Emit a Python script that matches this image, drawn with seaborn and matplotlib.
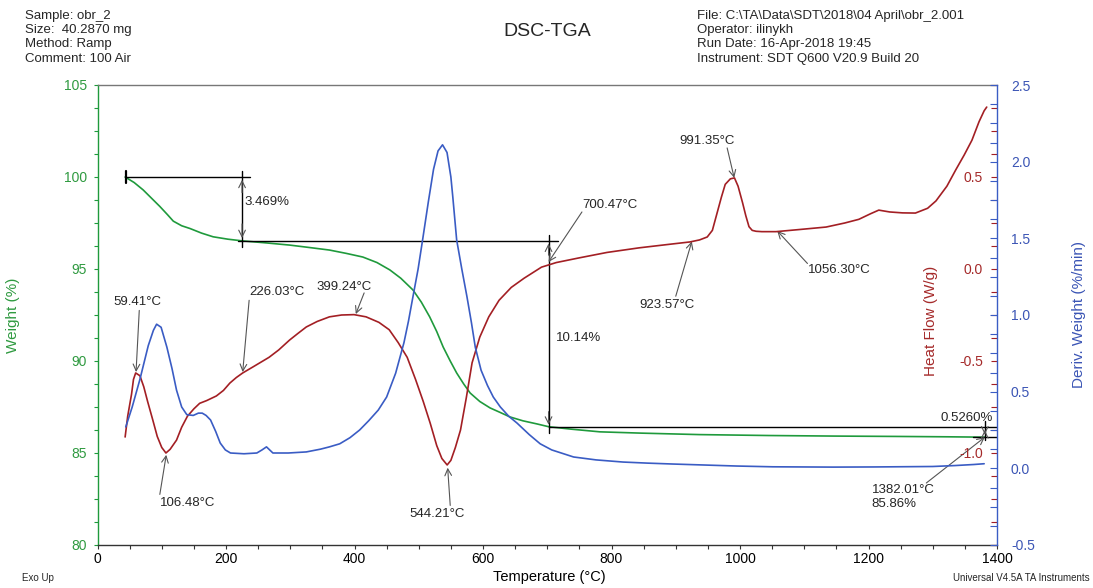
import numpy as np
import pandas as pd
import matplotlib
matplotlib.use("Agg")
import matplotlib.pyplot as plt
from matplotlib.ticker import MultipleLocator, FixedLocator, FormatStrFormatter
import seaborn as sns

# ---------------- data ----------------
weight_temp = [43, 57, 71, 84, 97, 109, 118, 131, 144, 162, 180, 203, 225, 262, 299, 327, 361, 387, 413, 435, 455, 472, 491, 504, 517, 528, 538, 549, 559, 570, 580, 595, 611, 627, 642, 662, 684, 702, 736, 782, 846, 937, 1045, 1145, 1244, 1324, 1382]
weight_pct = [100.0, 99.7, 99.3, 98.85, 98.4, 97.95, 97.6, 97.35, 97.2, 96.95, 96.75, 96.62, 96.53, 96.42, 96.3, 96.18, 96.03, 95.85, 95.65, 95.35, 94.95, 94.5, 93.86, 93.2, 92.4, 91.6, 90.76, 90.0, 89.35, 88.75, 88.26, 87.8, 87.45, 87.2, 86.96, 86.75, 86.58, 86.43, 86.3, 86.15, 86.08, 86.0, 85.95, 85.92, 85.9, 85.88, 85.86]

heat_temp = [43, 47, 53, 56, 59.4, 66, 72, 78, 86, 93, 100, 106.5, 113, 123, 131, 140, 150, 159, 170, 185, 196, 206, 216, 226, 243, 267, 282, 299, 312, 325, 342, 361, 380, 399.2, 418, 438, 454, 468, 482, 495, 507, 518, 528, 536, 544.2, 550, 557, 565, 574, 583, 595, 609, 625, 644, 664, 691, 714, 749, 793, 843, 892, 922, 937, 949, 957, 964, 971, 977, 985, 991.4, 997, 1004, 1009, 1014, 1019, 1025, 1034, 1056, 1094, 1134, 1163, 1185, 1203, 1216, 1233, 1253, 1273, 1292, 1305, 1322, 1336, 1349, 1361, 1372, 1380, 1384]
heat_flow = [-0.913, -0.80, -0.68, -0.60, -0.565, -0.58, -0.64, -0.72, -0.82, -0.91, -0.97, -1.0, -0.98, -0.93, -0.86, -0.80, -0.76, -0.73, -0.715, -0.69, -0.66, -0.62, -0.59, -0.565, -0.53, -0.48, -0.44, -0.386, -0.35, -0.315, -0.285, -0.26, -0.25, -0.248, -0.26, -0.29, -0.33, -0.40, -0.48, -0.60, -0.72, -0.84, -0.96, -1.03, -1.065, -1.04, -0.97, -0.875, -0.70, -0.51, -0.37, -0.26, -0.17, -0.10, -0.05, 0.01, 0.035, 0.06, 0.09, 0.115, 0.135, 0.147, 0.158, 0.174, 0.21, 0.30, 0.39, 0.46, 0.49, 0.495, 0.45, 0.36, 0.29, 0.23, 0.21, 0.205, 0.203, 0.203, 0.215, 0.228, 0.25, 0.27, 0.30, 0.32, 0.31, 0.305, 0.304, 0.33, 0.37, 0.45, 0.54, 0.62, 0.70, 0.80, 0.86, 0.88]

deriv_temp = [44, 54, 66, 79, 87, 92, 99, 108, 116, 123, 131, 139, 149, 157, 163, 169, 176, 184, 191, 199, 207, 228, 248, 256, 263, 268, 273, 297, 325, 347, 361, 377, 393, 408, 422, 437, 450, 464, 477, 484, 491, 499, 506, 515, 523, 530, 537, 544, 550, 553, 559, 567, 575, 582, 588, 597, 607, 616, 627, 640, 653, 672, 689, 707, 741, 776, 818, 856, 896, 995, 1051, 1145, 1208, 1300, 1334, 1364, 1380]
deriv_weight = [0.27, 0.40, 0.58, 0.80, 0.90, 0.94, 0.92, 0.79, 0.65, 0.51, 0.40, 0.35, 0.345, 0.36, 0.36, 0.345, 0.315, 0.24, 0.165, 0.12, 0.10, 0.095, 0.10, 0.12, 0.14, 0.12, 0.10, 0.10, 0.107, 0.125, 0.14, 0.16, 0.20, 0.25, 0.31, 0.38, 0.465, 0.62, 0.82, 0.96, 1.12, 1.30, 1.49, 1.74, 1.95, 2.07, 2.11, 2.06, 1.90, 1.77, 1.49, 1.30, 1.12, 0.95, 0.79, 0.64, 0.54, 0.465, 0.40, 0.34, 0.295, 0.22, 0.16, 0.12, 0.074, 0.055, 0.041, 0.034, 0.028, 0.015, 0.01, 0.008, 0.009, 0.012, 0.018, 0.025, 0.03]

x_ticks = [0, 200, 400, 600, 800, 1000, 1200, 1400]
weight_ticks = [80, 85, 90, 95, 100, 105]
heat_ticks = [-1.0, -0.5, 0.0, 0.5]
deriv_ticks = [-0.5, 0.0, 0.5, 1.0, 1.5, 2.0, 2.5]

peak_labels = ["59.41°C", "106.48°C", "226.03°C", "399.24°C", "544.21°C",
               "700.47°C", "923.57°C", "991.35°C", "1056.30°C", "1382.01°C\n85.86%"]
step_labels = ["3.469%", "10.14%", "0.5260%"]

# ---------------- style ----------------
sns.set_style("ticks")
plt.rcParams['font.family'] = ['Liberation Sans', 'DejaVu Sans']
plt.rcParams['axes.unicode_minus'] = False

GREEN = '#1f9a3c'
RED = '#a31f24'
BLUE = '#3a5cc4'
GREEN_T = '#2f9a40'
RED_T = '#a52a2a'
BLUE_T = '#3b55b5'
GRAY = '#555555'

fig = plt.figure(figsize=(10.93, 5.88), dpi=100)
ax = fig.add_axes([97.5 / 1093, 1 - 545 / 588, (997 - 97.5) / 1093, 460 / 588])
ax2 = ax.twinx()
ax3 = ax.twinx()

df_w = pd.DataFrame({"T": weight_temp, "W": weight_pct})
df_h = pd.DataFrame({"T": heat_temp, "H": heat_flow})
df_d = pd.DataFrame({"T": deriv_temp, "D": deriv_weight})

sns.lineplot(data=df_w, x="T", y="W", ax=ax, color=GREEN, linewidth=1.2, sort=False)
sns.lineplot(data=df_h, x="T", y="H", ax=ax2, color=RED, linewidth=1.2, sort=False)
sns.lineplot(data=df_d, x="T", y="D", ax=ax3, color=BLUE, linewidth=1.2, sort=False)

# ---------------- axes ----------------
ax.set_xlim(0, 1400)
ax.set_ylim(80, 105)
ax2.set_ylim(-1.5, 1.0)
ax3.set_ylim(-0.5, 2.5)

ax.xaxis.set_major_locator(FixedLocator(x_ticks))
ax.xaxis.set_minor_locator(MultipleLocator(50))
ax.yaxis.set_major_locator(FixedLocator(weight_ticks))
ax.yaxis.set_minor_locator(MultipleLocator(1.25))
ax2.yaxis.set_major_locator(FixedLocator(heat_ticks))
ax2.yaxis.set_minor_locator(MultipleLocator(0.125))
ax2.yaxis.set_major_formatter(FormatStrFormatter('%.1f'))
ax3.yaxis.set_major_locator(FixedLocator(deriv_ticks))
ax3.yaxis.set_minor_locator(MultipleLocator(0.125))
ax3.yaxis.set_major_formatter(FormatStrFormatter('%.1f'))

for a in (ax, ax2, ax3):
    for s in a.spines.values():
        s.set_visible(False)
ax.spines['left'].set_visible(True)
ax.spines['left'].set_color(GREEN)
ax.spines['bottom'].set_visible(True)
ax.spines['bottom'].set_color('#333333')
ax.spines['top'].set_visible(True)
ax.spines['top'].set_color('#777777')
ax3.spines['right'].set_visible(True)
ax3.spines['right'].set_color(BLUE)
for s in ('left', 'bottom', 'top'):
    ax.spines[s].set_linewidth(1.0)
ax3.spines['right'].set_linewidth(1.0)

ax.tick_params(axis='x', which='both', direction='out', length=3, width=0.8,
               colors='#333333', labelsize=10, pad=2, top=False)
ax.tick_params(axis='x', labelcolor='black')
ax.tick_params(axis='y', which='both', direction='out', length=3, width=0.8,
               color=GREEN, labelcolor=GREEN_T, labelsize=10, pad=4.5)

ax2.tick_params(axis='y', which='both', direction='in', length=4, width=0.8,
                color=RED, labelcolor=RED_T, labelsize=10, pad=-10,
                right=True, left=False, labelright=True, labelleft=False)
for t in ax2.get_yticklabels():
    t.set_horizontalalignment('right')

ax3.tick_params(axis='y', which='both', direction='in', length=5, width=0.8,
                color=BLUE, labelcolor=BLUE_T, labelsize=10, pad=10,
                right=True, left=False, labelright=True, labelleft=False)

ax.set_xlabel("Temperature (°C)", fontsize=10.5, color='black', va='center')
ax.xaxis.set_label_coords(0.502, -0.0705)
ax.set_ylabel("Weight (%)", fontsize=11, color=GREEN_T)
ax.yaxis.set_label_coords(-0.086, 0.5)
ax2.set_ylabel("Heat Flow (W/g)", fontsize=11, color=RED_T, rotation=90,
               va='center', ha='center')
ax2.yaxis.set_label_coords(0.927, 0.487)
ax3.set_ylabel("Deriv. Weight (%/min)", fontsize=11, color=BLUE_T, rotation=90,
               va='center', ha='center')
ax3.yaxis.set_label_coords(1.0915, 0.5)

# ---------------- step-change annotations (on weight axis) ----------------
k = dict(color='black', lw=1.0, zorder=5)
ax.plot([43, 238], [100, 100], **k)
ax.plot([44, 44], [100.3, 99.7], color='black', lw=1.6, zorder=5)
ax.plot([225, 225], [100.3, 96.2], **k)
ax.plot([218, 716], [96.53, 96.53], **k)
ax.plot([702, 702], [96.85, 86.1], **k)
ax.plot([702, 1400], [86.39, 86.39], **k)
ax.plot([1381, 1381], [86.75, 85.7], **k)
ax.plot([1362, 1400], [85.86, 85.86], **k)

arr = dict(arrowstyle='->', color=GRAY, lw=0.8, mutation_scale=12)
ax.annotate('', xy=(225, 100.0), xytext=(225, 99.0), arrowprops=arr, zorder=6)
ax.annotate('', xy=(225, 96.53), xytext=(225, 97.6), arrowprops=arr, zorder=6)
ax.annotate('', xy=(702, 96.53), xytext=(702, 95.6), arrowprops=arr, zorder=6)
ax.annotate('', xy=(702, 86.39), xytext=(702, 87.4), arrowprops=arr, zorder=6)
ax.annotate('', xy=(1381, 86.39), xytext=(1381, 85.9), arrowprops=arr, zorder=6)
ax.annotate('', xy=(1381, 85.86), xytext=(1381, 86.35), arrowprops=arr, zorder=6)

ax.text(228, 98.64, step_labels[0], fontsize=9.5, va='center', ha='left', zorder=7)
ax.text(714, 91.25, step_labels[1], fontsize=9.5, va='center', ha='left', zorder=7)
ax.text(1312, 86.9, step_labels[2], fontsize=9.5, va='center', ha='left', zorder=7)

# ---------------- peak annotations ----------------
ann = [
    ((24, 93.2), (65, 92.75), (60, 89.4)),
    ((97, 82.28), (97, 82.75), (107, 84.9)),
    ((236, 93.75), (236, 93.3), (226, 89.4)),
    ((341, 94.0), (415, 93.7), (402, 92.55)),
    ((485, 81.68), (549, 82.15), (545, 84.2)),
    ((754, 98.48), (754, 98.1), (702, 95.38)),
    ((843, 93.04), (900, 93.52), (925, 96.5)),
    ((906, 101.96), (980, 101.58), (991, 99.95)),
    ((1105, 94.95), (1105, 95.3), (1058, 97.07)),
    ((1205, 82.6), (1290, 83.37), (1381, 85.86)),
]
for label, (tpos, start, tip) in zip(peak_labels, ann):
    ax.text(tpos[0], tpos[1], label, fontsize=9.5, va='center', ha='left',
            zorder=7, linespacing=1.15)
    ax.annotate('', xy=tip, xytext=start,
                arrowprops=dict(arrowstyle='->', color=GRAY, lw=0.8,
                                mutation_scale=12, shrinkA=0, shrinkB=0),
                zorder=6)

# ---------------- header / footer ----------------
fig.text(25 / 1093, 1 - 10 / 588,
         "Sample: obr_2\nSize:  40.2870 mg\nMethod: Ramp\nComment: 100 Air",
         fontsize=9.5, va='top', ha='left', linespacing=1.25)
fig.text(697 / 1093, 1 - 10 / 588,
         "File: C:\\TA\\Data\\SDT\\2018\\04 April\\obr_2.001\nOperator: ilinykh\n"
         "Run Date: 16-Apr-2018 19:45\nInstrument: SDT Q600 V20.9 Build 20",
         fontsize=9.5, va='top', ha='left', linespacing=1.25)
fig.text(547 / 1093, 1 - 31 / 588, "DSC-TGA", fontsize=14, ha='center', va='center')
fig.text(38 / 1093, 1 - 578 / 588, "Exo Up", fontsize=7, ha='center', va='center')
fig.text(1090 / 1093, 1 - 578 / 588, "Universal V4.5A TA Instruments", fontsize=7,
         ha='right', va='center')

fig.savefig("out.png", dpi=100)
